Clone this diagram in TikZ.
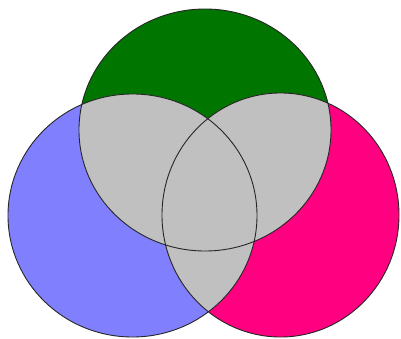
\documentclass[tikz,border=0pt]{standalone}
\definecolor{vgreen}{RGB}{0,117,0}
\definecolor{vblue}{RGB}{128,128,255}
\definecolor{vpink}{RGB}{255,0,128}
\definecolor{vgray}{RGB}{192,192,192}
\tikzset{outline/.style={draw=black!85, line width=0.9pt}}
\begin{document}
\begin{tikzpicture}[x=1pt,y=-1pt]
\useasboundingbox[fill=white] (0,0) rectangle (401,339);
% colored circles
\fill[vgreen] (205,130) ellipse [x radius=126pt, y radius=121pt];
\fill[vblue] (132.5,215.5) ellipse [x radius=124.5pt, y radius=121.5pt];
\fill[vpink] (280.5,215) ellipse [x radius=118.5pt, y radius=122pt];
% overlaps in gray
\begin{scope}
  \clip (205,130) ellipse [x radius=126pt, y radius=121pt];
  \fill[vgray] (132.5,215.5) ellipse [x radius=124.5pt, y radius=121.5pt];
  \fill[vgray] (280.5,215) ellipse [x radius=118.5pt, y radius=122pt];
\end{scope}
\begin{scope}
  \clip (132.5,215.5) ellipse [x radius=124.5pt, y radius=121.5pt];
  \fill[vgray] (280.5,215) ellipse [x radius=118.5pt, y radius=122pt];
\end{scope}
% outlines
\draw[outline] (205,130) ellipse [x radius=126pt, y radius=121pt];
\draw[outline] (132.5,215.5) ellipse [x radius=124.5pt, y radius=121.5pt];
\draw[outline] (280.5,215) ellipse [x radius=118.5pt, y radius=122pt];
\end{tikzpicture}
\end{document}
